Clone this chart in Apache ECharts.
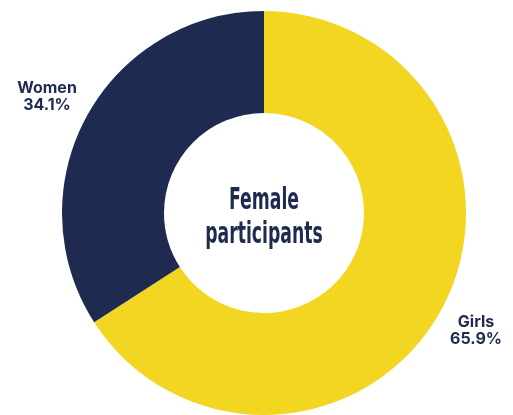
<!DOCTYPE html>
<html><head><meta charset="utf-8">
<script src="https://cdn.jsdelivr.net/npm/echarts@6/dist/echarts.min.js"></script>
<style>html,body{margin:0;padding:0;background:#fff}#c{width:513px;height:415px}</style>
</head><body><div id="c"></div>
<script>
const categories = ['Girls', 'Women'];
const values = [65.9, 34.1];
const colors = ['#f2d621', '#1f2a50'];
const centerText = 'Female\nparticipants';

const chart = echarts.init(document.getElementById('c'));
const labelPos = {Girls: [476, 331], Women: [47, 97]};
chart.setOption({
  animation: false,
  backgroundColor: '#ffffff',
  graphic: [{
    type: 'text', x: 264, y: 218, scaleX: 0.64,
    style: {
      text: centerText, fill: '#1f2a50', align: 'center', verticalAlign: 'middle',
      font: 'bold 30px "DejaVu Sans Condensed", "DejaVu Sans", sans-serif',
      lineHeight: 34
    }
  }],
  series: [{
    type: 'pie',
    center: [264, 213],
    radius: [100, 202],
    startAngle: 90,
    clockwise: true,
    percentPrecision: 1,
    data: categories.map((c, i) => ({name: c, value: values[i], itemStyle: {color: colors[i]}})),
    label: {
      show: true, position: 'inside',
      formatter: '{b}\n{d}%',
      color: '#1f2a50', fontFamily: 'Inter', fontWeight: 'bold', fontSize: 16, lineHeight: 17,
      align: 'center', overflow: 'none'
    },
    labelLine: {show: false},
    labelLayout: function (p) {
      const pos = labelPos[p.text.split('\n')[0]] || [0, 0];
      return {x: pos[0], y: pos[1], align: 'center', verticalAlign: 'middle'};
    },
    emphasis: {disabled: true}
  }]
});
</script></body></html>
